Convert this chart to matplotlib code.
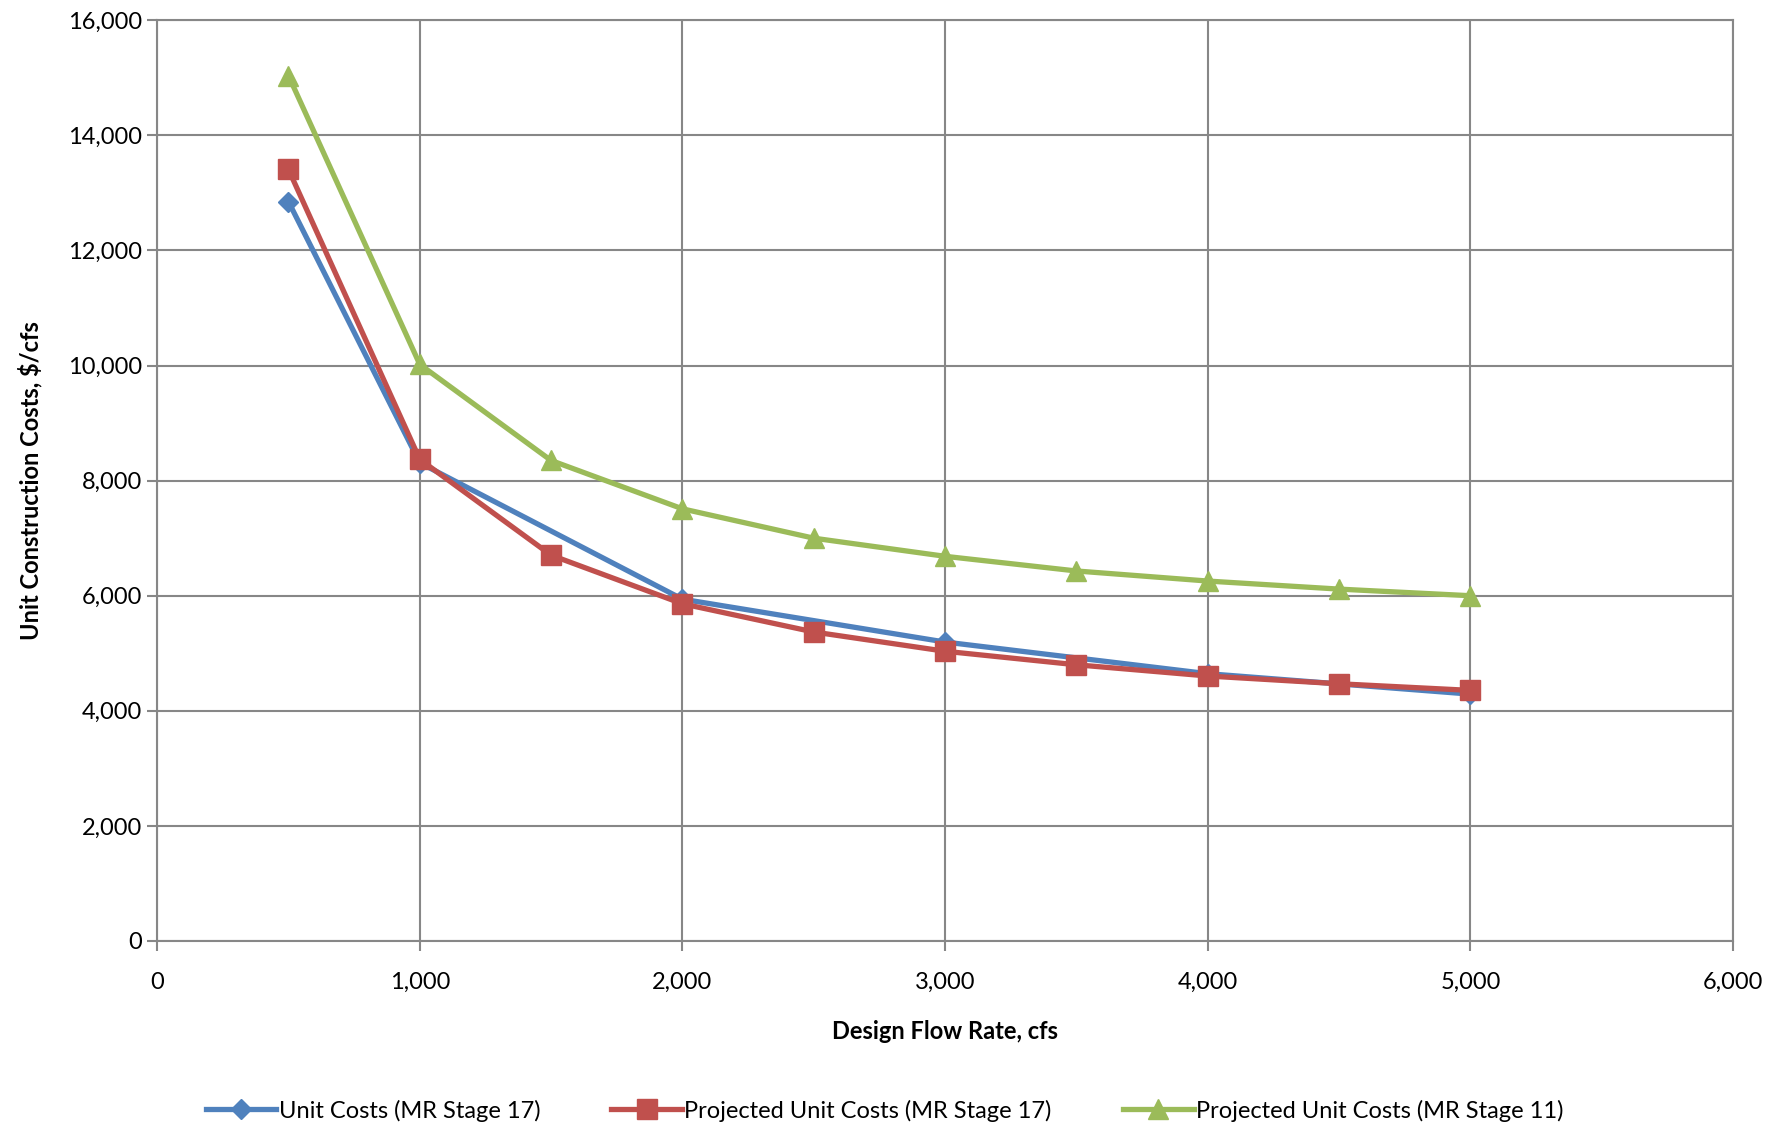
import matplotlib
matplotlib.use('Agg')
from matplotlib import pyplot as plt
from matplotlib.ticker import FuncFormatter, MultipleLocator

plt.rcParams['font.family'] = ['Lato', 'DejaVu Sans']

# design flow rate, cfs
flow_unit = [500, 1000, 2000, 3000, 4000, 5000]
flow_proj = [500, 1000, 1500, 2000, 2500, 3000, 3500, 4000, 4500, 5000]

# unit construction costs, $/cfs
unit_s17 = [12850, 8310, 5940, 5195, 4645, 4290]
proj_s17 = [13410, 8370, 6705, 5860, 5370, 5035, 4800, 4605, 4470, 4355]
proj_s11 = [15040, 10020, 8350, 7510, 7000, 6685, 6430, 6255, 6115, 6000]

labels = ['Unit Costs (MR Stage 17)',
          'Projected Unit Costs (MR Stage 17)',
          'Projected Unit Costs (MR Stage 11)']
colors = ['#4F81BD', '#C0504D', '#9BBB59']

fig = plt.figure(figsize=(17.69, 11.26), dpi=100)
ax = fig.add_axes([0.0888, 0.1643, 0.8909, 0.8177])

ax.plot(flow_unit, unit_s17, color=colors[0], lw=3.8, marker='D', ms=10,
        label=labels[0], zorder=3)
ax.plot(flow_proj, proj_s17, color=colors[1], lw=3.8, marker='s', ms=14.5,
        label=labels[1], zorder=4)
ax.plot(flow_proj, proj_s11, color=colors[2], lw=3.8, marker='^', ms=15,
        label=labels[2], zorder=3)

ax.set_xlim(0, 6000)
ax.set_ylim(0, 16000)
ax.xaxis.set_major_locator(MultipleLocator(1000))
ax.yaxis.set_major_locator(MultipleLocator(2000))
fmt = FuncFormatter(lambda v, p: f'{int(v):,}')
ax.xaxis.set_major_formatter(fmt)
ax.yaxis.set_major_formatter(fmt)

ax.grid(True, color='#878787', lw=1.5)
ax.set_axisbelow(True)
for s in ax.spines.values():
    s.set_color('#878787')
    s.set_linewidth(1.5)
ax.tick_params(axis='both', colors='#878787', labelcolor='black',
               labelsize=17, length=7, width=1.5, direction='out')
ax.tick_params(axis='x', pad=15)
ax.tick_params(axis='y', pad=4)

ax.set_xlabel('Design Flow Rate, cfs', fontsize=17, fontweight='bold',
              labelpad=20)
ax.set_ylabel('Unit Construction Costs, $/cfs', fontsize=17,
              fontweight='bold', labelpad=18)

fig.legend(loc='lower center', bbox_to_anchor=(0.5, -0.015), ncol=3,
           frameon=False, fontsize=17, columnspacing=3.0,
           handlelength=3.0, handletextpad=0.1)

fig.savefig('out.png', dpi=100)
